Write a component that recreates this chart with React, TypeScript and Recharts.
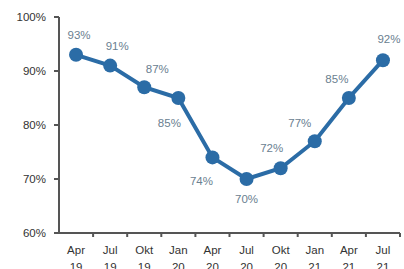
import { LineChart, Line, XAxis, YAxis } from 'recharts';

const months = ['Apr', 'Jul', 'Okt', 'Jan', 'Apr', 'Jul', 'Okt', 'Jan', 'Apr', 'Jul'];
const years = ['19', '19', '19', '20', '20', '20', '20', '21', '21', '21'];
const share = [93, 91, 87, 85, 74, 70, 72, 77, 85, 92];
const yTicks = [60, 70, 80, 90, 100];

const data = months.map((m, i) => ({ period: `${m} ${years[i]}`, share: share[i] }));

// where each value label sits relative to its dot
const placement: [number, number][] = [
  [3, -19], [7, -19], [13, -17], [-9, 26], [-11, 25],
  [0, 21], [-9, -19], [-15, -17], [-12, -18], [6, -20],
];

const font = '"Liberation Sans", Arial, sans-serif';
const axisColor = '#555';

const ValueLabel = (props: any) => {
  const { x, y, value, index } = props;
  const [dx, dy] = placement[index] || [0, -18];
  return (
    <text x={x + dx} y={y + dy} textAnchor="middle" dominantBaseline="middle" fill="#6a8090" fontSize={11.5} fontFamily={font}>
      {value}%
    </text>
  );
};

// month/year label plus tick marks on the band edges
const MonthTick = (props: any) => {
  const { x, y, payload, index, visibleTicksCount } = props;
  const half = payload.offset || 0;
  const [m, yr] = String(payload.value).split(' ');
  const last = index === visibleTicksCount - 1;
  return (
    <g transform={`translate(${x},${y})`}>
      {index > 0 && <line x1={-half} x2={-half} y1={0} y2={4} stroke={axisColor} strokeWidth={2} />}
      {last && <line x1={half} x2={half} y1={0} y2={4} stroke={axisColor} strokeWidth={2} />}
      <text x={0} y={21} textAnchor="middle" fill="#333" fontSize={11.5} fontFamily={font}>{m}</text>
      <text x={0} y={38} textAnchor="middle" fill="#333" fontSize={11.5} fontFamily={font}>{yr}</text>
    </g>
  );
};

export default function App() {
  return (
    <div style={{ position: 'fixed', left: 0, top: 0, width: 404, height: 269, background: '#fff', overflow: 'hidden' }}>
      <LineChart width={404} height={290} data={data} margin={{ top: 17, right: 4, left: 0, bottom: 0 }}>
        <XAxis
          dataKey="period"
          scale="band"
          height={57}
          tickLine={false}
          tickSize={0}
          tickMargin={0}
          interval={0}
          stroke={axisColor}
          strokeWidth={2}
          tick={<MonthTick />}
        />
        <YAxis
          domain={[60, 100]}
          ticks={yTicks}
          width={59}
          tickSize={5}
          tickMargin={8}
          stroke={axisColor}
          strokeWidth={2}
          tickFormatter={(v: number) => `${v}%`}
          tick={{ fill: '#333', fontSize: 11.5, fontFamily: font }}
        />
        <Line
          dataKey="share"
          stroke="#2b6ca6"
          strokeWidth={4}
          dot={{ r: 7, fill: '#2b6ca6', stroke: '#2b6ca6', strokeWidth: 0 }}
          activeDot={false}
          isAnimationActive={false}
          label={<ValueLabel />}
        />
      </LineChart>
    </div>
  );
}
